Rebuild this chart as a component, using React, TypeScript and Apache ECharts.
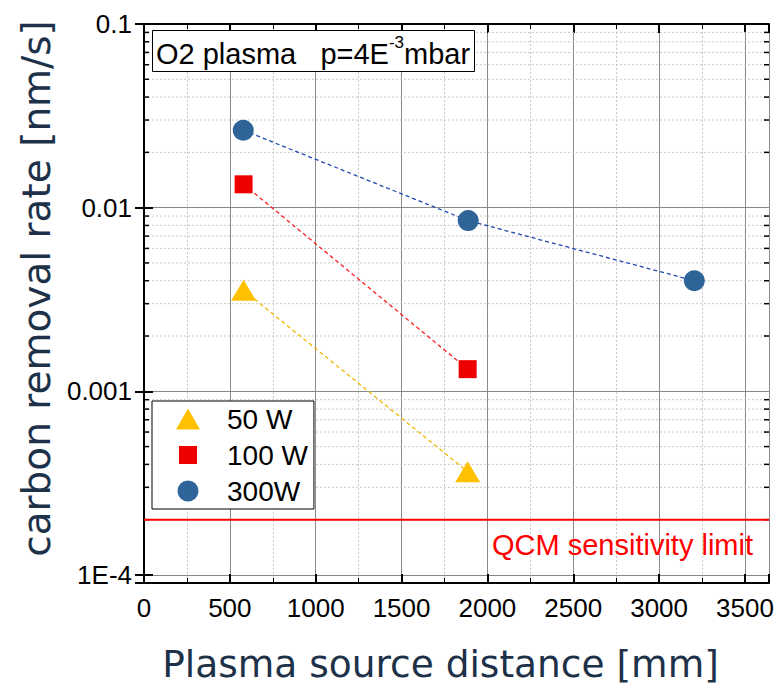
import React, { useEffect, useRef } from "react";
import * as echarts from "echarts";

// ---- data ----
const distances50 = [580, 1885];
const rates50 = [0.00355, 0.000365];
const distances100 = [580, 1885];
const rates100 = [0.0134, 0.00132];
const distances300 = [578, 1888, 3205];
const rates300 = [0.0264, 0.0085, 0.0040];
const qcmLimit = 0.0002;

const xTicks = [0, 500, 1000, 1500, 2000, 2500, 3000, 3500];
const yTickLabels: Record<string, string> = { "-4": "1E-4", "-3": "0.001", "-2": "0.01", "-1": "0.1" };
const yMinorValues = [
  0.0002, 0.0003, 0.0004, 0.0005, 0.0006, 0.0007, 0.0008, 0.0009,
  0.002, 0.003, 0.004, 0.005, 0.006, 0.007, 0.008, 0.009,
  0.02, 0.03, 0.04, 0.05, 0.06, 0.07, 0.08, 0.09,
];

const TICK_FONT = "'Liberation Sans', Arial, sans-serif";
const TITLE_FONT = "'DejaVu Sans', Verdana, sans-serif";
const TITLE_COLOR = "#1d3148";

// legend icons (invisible corner points keep the icon box size)
const ICON_TRI = "path://M0,0L0,0M26,24L26,24M1,22.5L13,1.5L25,22.5Z";
const ICON_RECT = "path://M0,0L0,0M26,24L26,24M4,3L22,3L22,21L4,21Z";
const ICON_CIRC = "path://M0,0L0,0M26,24L26,24M2.5,12a10.5,10.5 0 1,0 21,0a10.5,10.5 0 1,0 -21,0Z";

export default function App() {
  const ref = useRef<HTMLDivElement>(null);
  useEffect(() => {
    if (!ref.current) return;
    const chart = echarts.init(ref.current, undefined, { renderer: "svg" });
    const xMin = xTicks[0];
    const xMax = 3640;
    const yMin = 0.0000904;
    const yMax = 0.1;

    const yLabel = (v: number) => {
      const l = Math.log10(v);
      const r = Math.round(l);
      if (Math.abs(l - r) > 1e-6) return "";
      return yTickLabels[String(r)] ?? "";
    };

    const option: any = {
      animation: false,
      grid: { left: 144, right: 7, top: 24, bottom: 103, containLabel: false, outerBoundsMode: "none" },
      title: {
        text: "{n|O2 plasma\u00a0\u00a0\u00a0p=4E}{sup|-3}{n|mbar}",
        left: 152,
        top: 30,
        padding: [4, 5, 4, 4],
        borderColor: "#000",
        borderWidth: 1,
        backgroundColor: "#fff",
        textStyle: {
          fontWeight: "normal",
          rich: {
            n: { fontFamily: TICK_FONT, fontSize: 29, fontWeight: "normal", color: "#000", lineHeight: 34, verticalAlign: "bottom" },
            sup: { fontFamily: TICK_FONT, fontSize: 17, fontWeight: "normal", color: "#000", lineHeight: 34, verticalAlign: "top" },
          },
        },
      },
      legend: {
        orient: "vertical",
        left: 152,
        top: 401,
        padding: [4, 6, 4, 23],
        itemWidth: 26,
        itemHeight: 24,
        itemGap: 8,
        borderColor: "#000",
        borderWidth: 1,
        backgroundColor: "#fff",
        itemStyle: { borderWidth: 0 },
        formatter: (name: string) => `{t|${name}}`,
        textStyle: {
          fontFamily: TICK_FONT,
          fontSize: 28,
          color: "#000",
          rich: { t: { fontFamily: TICK_FONT, fontSize: 28, color: "#000", padding: [0, 0, 0, 21] } },
        },
        data: [
          { name: "50 W", icon: ICON_TRI },
          { name: "100 W", icon: ICON_RECT },
          { name: "300W", icon: ICON_CIRC },
        ],
      },
      xAxis: [
        {
          type: "value",
          min: xMin,
          max: xMax,
          interval: 500,
          name: "Plasma source distance [mm]",
          nameLocation: "middle",
          nameGap: 62,
          nameTextStyle: { fontFamily: TITLE_FONT, fontSize: 37.5, color: TITLE_COLOR, padding: [0, 32, 0, 0] },
          axisLine: { show: true, lineStyle: { color: "#000", width: 2 } },
          axisTick: { show: true, inside: true, length: 9, lineStyle: { color: "#000", width: 2 } },
          minorTick: { show: true, splitNumber: 2, length: 5, lineStyle: { color: "#000", width: 1 } },
          axisLabel: {
            fontFamily: TICK_FONT,
            fontSize: 26,
            color: "#000",
            margin: 12,
            formatter: (v: number) => (xTicks.includes(v) ? String(v) : ""),
          },
          splitLine: { show: true, lineStyle: { color: "#8a8a8a", width: 1 } },
          minorSplitLine: { show: true, lineStyle: { color: "#c8c8c8", width: 1, type: [2, 2] } },
        },
        {
          type: "value",
          position: "top",
          min: xMin,
          max: xMax,
          interval: 500,
          axisLine: { show: true, lineStyle: { color: "#000", width: 2 } },
          axisTick: { show: true, inside: true, length: 9, lineStyle: { color: "#000", width: 2 } },
          minorTick: { show: true, splitNumber: 2, length: 5, lineStyle: { color: "#000", width: 1 } },
          axisLabel: { show: false },
          splitLine: { show: false },
        },
      ],
      yAxis: [
        {
          type: "log",
          logBase: 10,
          min: yMin,
          max: yMax,
          name: "carbon removal rate [nm/s]",
          nameLocation: "middle",
          nameGap: 84,
          nameTextStyle: { fontFamily: TITLE_FONT, fontSize: 39, color: TITLE_COLOR, padding: [0, 0, 0, 30] },
          axisLine: { show: true, lineStyle: { color: "#000", width: 2 } },
          axisTick: { show: true, inside: true, length: 9, lineStyle: { color: "#000", width: 2 } },
          axisLabel: { fontFamily: TICK_FONT, fontSize: 26, color: "#000", margin: 12, formatter: yLabel },
          splitLine: { show: true, lineStyle: { color: "#8a8a8a", width: 1 } },
        },
        {
          type: "log",
          logBase: 10,
          position: "right",
          min: yMin,
          max: yMax,
          axisLine: { show: true, lineStyle: { color: "#000", width: 2 } },
          axisTick: { show: true, inside: true, length: 9, lineStyle: { color: "#000", width: 2 } },
          axisLabel: { show: false },
          splitLine: { show: false },
        },
      ],
      series: [
        {
          type: "custom",
          name: "minor",
          silent: true,
          z: 1,
          clip: true,
          data: yMinorValues.map((v) => [xMin, v]),
          renderItem: (params: any, api: any) => {
            const cs = params.coordSys;
            const y = api.coord([xMin, api.value(1)])[1];
            return {
              type: "group",
              children: [
                {
                  type: "line",
                  shape: { x1: cs.x, y1: y, x2: cs.x + cs.width, y2: y },
                  style: { stroke: "#c8c8c8", lineWidth: 1, lineDash: [2, 2] },
                },
                {
                  type: "line",
                  shape: { x1: cs.x, y1: y, x2: cs.x + 5, y2: y },
                  style: { stroke: "#000", lineWidth: 1.5 },
                },
                {
                  type: "line",
                  shape: { x1: cs.x + cs.width - 5, y1: y, x2: cs.x + cs.width, y2: y },
                  style: { stroke: "#000", lineWidth: 1.5 },
                },
              ],
            };
          },
        },
        {
          type: "line",
          name: "QCM sensitivity limit",
          silent: true,
          z: 2,
          symbol: "circle",
          symbolSize: 0,
          lineStyle: { color: "#ff0000", width: 2 },
          itemStyle: { color: "#ff0000" },
          data: [
            [xMin, qcmLimit],
            {
              value: [xMax, qcmLimit],
              label: {
                show: true,
                position: "bottom",
                align: "right",
                verticalAlign: "top",
                offset: [-16, 6],
                formatter: "QCM sensitivity limit",
                fontFamily: TICK_FONT,
                fontSize: 29,
                color: "#ff0000",
              },
            },
          ],
        },
        {
          type: "line",
          name: "50 W",
          z: 3,
          data: distances50.map((x, i) => [x, rates50[i]]),
          symbol: "triangle",
          symbolSize: [25, 21],
          itemStyle: { color: "#ffc000" },
          lineStyle: { color: "#f0b800", width: 1.3, type: [4, 3] },
        },
        {
          type: "line",
          name: "100 W",
          z: 3,
          data: distances100.map((x, i) => [x, rates100[i]]),
          symbol: "rect",
          symbolSize: 18,
          itemStyle: { color: "#ee0000" },
          lineStyle: { color: "#ff2020", width: 1.3, type: [4, 3] },
        },
        {
          type: "line",
          name: "300W",
          z: 3,
          data: distances300.map((x, i) => [x, rates300[i]]),
          symbol: "circle",
          symbolSize: 21,
          itemStyle: { color: "#2f6498" },
          lineStyle: { color: "#1f48b0", width: 1.3, type: [4, 3] },
        },
      ],
    };
    chart.setOption(option);
    return () => chart.dispose();
  }, []);
  return (
    <div
      ref={ref}
      style={{ position: "absolute", left: 0, top: 0, width: 776, height: 686 }}
    />
  );
}
